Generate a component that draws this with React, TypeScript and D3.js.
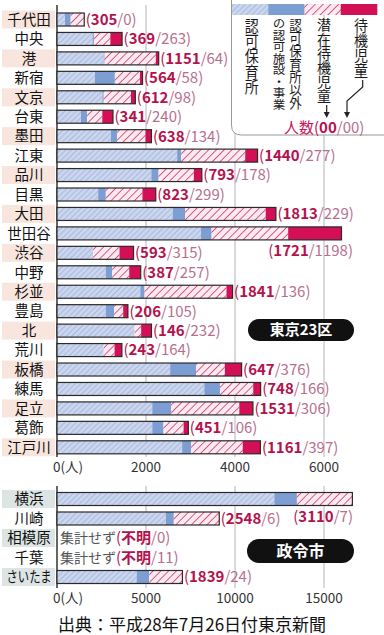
import React, { Component } from "react";
import * as d3 from "d3";

// 東京23区
const wards = ["千代田", "中央", "港", "新宿", "文京", "台東", "墨田", "江東", "品川", "目黒", "大田", "世田谷",
  "渋谷", "中野", "杉並", "豊島", "北", "荒川", "板橋", "練馬", "足立", "葛飾", "江戸川"];
const wardNinka = [180, 800, 1050, 850, 1020, 537, 1210, 2700, 2120, 925, 2600, 3237, 812, 1096, 1872, 1096, 1745, 1051, 2543, 3311, 2141, 2141, 2812];
const wardOther = [127, 30, 20, 450, 30, 140, 140, 90, 163, 172, 277, 237, 0, 141, 96, 186, 0, 0, 582, 351, 425, 253, 201];
const wardSenzai = [305, 369, 1151, 564, 612, 341, 638, 1440, 793, 823, 1813, 1721, 593, 387, 1841, 206, 146, 243, 647, 748, 1531, 451, 1161];
const wardTaiki = [0, 263, 64, 58, 98, 240, 134, 277, 178, 299, 229, 1198, 315, 257, 136, 105, 232, 164, 376, 166, 306, 106, 397];

// 政令市 (null = 集計せず)
const cities = ["横浜", "川崎", "相模原", "千葉", "さいたま"];
const cityNinka = [12210, 6115, null, null, 4474];
const cityOther = [1268, 447, null, null, 710];
const citySenzai = [3110, 2548, null, null, 1839];
const cityTaiki = [7, 6, 0, 11, 24];

const wardTicks = [0, 2000, 4000, 6000];
const cityTicks = [0, 5000, 10000, 15000];

const keys = ["ninka", "other", "senzai", "taiki"];
const FONT = "'Noto Sans CJK JP', 'Noto Sans', sans-serif";
const NUM1 = "#b3124e";
const NUM2 = "#b86f8d";

class App extends Component {
  svgRef = React.createRef<SVGSVGElement>();

  componentDidMount() {
    this.chart();
  }

  componentDidUpdate() {
    this.chart();
  }

  chart() {
    const svg = d3.select(this.svgRef.current);
    svg.selectAll("*").remove();

    const defs = svg.append("defs");
    const hatch = (id: string, base: string, stroke: string, size: number, sw: number) => {
      const p = defs.append("pattern").attr("id", id).attr("patternUnits", "userSpaceOnUse")
        .attr("width", size).attr("height", size).attr("patternTransform", "rotate(45)");
      p.append("rect").attr("width", size).attr("height", size).attr("fill", base);
      p.append("line").attr("x1", 0).attr("y1", 0).attr("x2", 0).attr("y2", size)
        .attr("stroke", stroke).attr("stroke-width", sw);
    };
    hatch("hBlue", "#cbd6ee", "#9fb3dc", 4, 1.6);
    hatch("hPink", "#fdeaf1", "#cc2a60", 5.5, 1.5);

    const colors = d3.scaleOrdinal<string, string>().domain(keys)
      .range(["url(#hBlue)", "#7c9ed3", "url(#hPink)", "#d30f55"]);

    const xTop = d3.scaleLinear().domain([0, 6000]).range([57, 324]);
    const xBot = d3.scaleLinear().domain([0, 15000]).range([57, 324]);
    const yTop = d3.scalePoint().domain(wards).range([19.5, 447.3]);
    const yBot = d3.scalePoint().domain(cities).range([499, 577]);
    const barH = 13;

    // gridlines + tick labels
    const grid = (x: d3.ScaleLinear<number, number>, ticks: number[], y0: number, y1: number) => {
      svg.append("g").selectAll("line").data(ticks).join("line")
        .attr("x1", d => x(d)).attr("x2", d => x(d)).attr("y1", y0).attr("y2", y1)
        .attr("stroke", d => d === 0 ? "#333" : "#b4b4b4")
        .attr("stroke-width", d => d === 0 ? 1.5 : 1);
      svg.append("g").selectAll("text").data(ticks).join("text")
        .attr("x", d => d === 0 ? x(d) - 4 : x(d)).attr("y", y1 + 14.5)
        .attr("text-anchor", d => d === 0 ? "start" : "middle")
        .attr("font-size", 13.5).attr("fill", "#333").attr("font-family", FONT)
        .text(d => d === 0 ? "0(人)" : String(d));
    };
    grid(xTop, wardTicks, 5, 457);
    grid(xBot, cityTicks, 486, 588);

    // row label backgrounds
    svg.append("g").selectAll("rect").data(wards).join("rect")
      .attr("x", 2).attr("y", d => yTop(d)! - 9).attr("width", 53).attr("height", 18)
      .attr("fill", (d, i) => i % 2 === 0 ? "#f8e6de" : "none");
    svg.append("g").selectAll("rect").data(cities).join("rect")
      .attr("x", 2).attr("y", d => yBot(d)! - 9).attr("width", 53).attr("height", 18)
      .attr("fill", (d, i) => i % 2 === 0 ? "#dde5e4" : "none");

    svg.append("g").selectAll("text").data(wards).join("text")
      .attr("x", 29).attr("y", d => yTop(d)!).attr("dy", "0.36em").attr("text-anchor", "middle")
      .attr("font-size", 14.5).attr("font-family", FONT).attr("fill", "#111").text(d => d);
    svg.append("g").selectAll("text").data(cities).join("text")
      .attr("x", 29).attr("y", d => yBot(d)!).attr("dy", "0.36em").attr("text-anchor", "middle")
      .attr("font-size", 14.5).attr("font-family", FONT).attr("fill", "#111")
      .attr("textLength", d => d.length > 3 ? 45 : null).attr("lengthAdjust", "spacingAndGlyphs")
      .text(d => d);

    // stacked bars
    const wardRows = wards.map((name, i) => ({
      name, ninka: wardNinka[i], other: wardOther[i], senzai: wardSenzai[i], taiki: wardTaiki[i],
    }));
    const cityRows = cities.map((name, i) => ({
      name, ninka: cityNinka[i] ?? 0, other: cityOther[i] ?? 0, senzai: citySenzai[i] ?? 0, taiki: cityTaiki[i],
      known: citySenzai[i] !== null,
    }));

    const drawBars = (rows: any[], x: d3.ScaleLinear<number, number>, y: d3.ScalePoint<string>) => {
      const stacked = d3.stack<any>().keys(keys)(rows);
      const g = svg.append("g");
      g.selectAll("g").data(stacked).join("g").attr("fill", d => colors(d.key))
        .selectAll("rect").data(d => d.filter((s: any) => s.data.known !== false)).join("rect")
        .attr("x", d => x(d[0])).attr("width", d => x(d[1]) - x(d[0]))
        .attr("y", d => y(d.data.name)! - barH / 2).attr("height", barH);
      g.selectAll(".outline").data(rows.filter(r => r.known !== false)).join("rect").attr("class", "outline")
        .attr("x", x(0)).attr("width", r => x(r.ninka + r.other + r.senzai + r.taiki) - x(0))
        .attr("y", r => y(r.name)! - barH / 2).attr("height", barH)
        .attr("fill", "none").attr("stroke", "#2a2a2a").attr("stroke-width", 1.2);
    };
    drawBars(wardRows, xTop, yTop);
    drawBars(cityRows, xBot, yBot);

    // value labels (潜在/待機)
    const label = (sel: any, a: string, b: string) => {
      sel.append("tspan").attr("fill", NUM1).text("(");
      sel.append("tspan").attr("fill", NUM1).attr("font-weight", "bold").text(a);
      sel.append("tspan").attr("fill", NUM2).text(`/${b})`);
    };
    const placeLabels = (rows: any[], x: d3.ScaleLinear<number, number>, y: d3.ScalePoint<string>, below: string[]) => {
      const g = svg.append("g").attr("font-size", 15).attr("font-family", FONT);
      rows.forEach(r => {
        const end = x(r.ninka + r.other + r.senzai + r.taiki);
        if (r.known === false) {
          const t = g.append("text").attr("x", 60).attr("y", y(r.name)!).attr("dy", "0.36em");
          t.append("tspan").attr("fill", "#555").attr("font-size", 14).text("集計せず");
          label(t, "不明", String(r.taiki));
          return;
        }
        const isBelow = below.includes(r.name);
        const t = g.append("text")
          .attr("x", isBelow ? 353 : end + 1.5)
          .attr("y", isBelow ? y(r.name)! + 17.5 : y(r.name)!)
          .attr("dy", "0.36em")
          .attr("text-anchor", isBelow ? "end" : "start");
        label(t, String(r.senzai), String(r.taiki));
      });
    };
    placeLabels(wardRows, xTop, yTop, ["世田谷"]);
    placeLabels(cityRows, xBot, yBot, ["横浜"]);

    // region tags
    const tag = (x0: number, y0: number, w: number, h: number, txt: string, fs: number) => {
      svg.append("rect").attr("x", x0).attr("y", y0).attr("width", w).attr("height", h)
        .attr("rx", h / 2).attr("fill", "#111");
      svg.append("text").attr("x", x0 + w / 2).attr("y", y0 + h / 2).attr("dy", "0.36em")
        .attr("text-anchor", "middle").attr("fill", "#fff").attr("font-weight", "bold")
        .attr("font-size", fs).attr("font-family", FONT).text(txt);
    };
    tag(248, 319, 106, 22, "東京23区", 15);
    tag(247, 539, 107, 24, "政令市", 16);

    // legend
    const lg = svg.append("g");
    lg.append("path").attr("d", "M231.5,-2 V125 Q231.5,135 241.5,135 H390")
      .attr("fill", "#fff").attr("stroke", "#999").attr("stroke-width", 1);
    const lx = d3.scaleBand().domain(keys).range([232, 377]);
    lg.selectAll("rect").data(keys).join("rect")
      .attr("x", d => lx(d)!).attr("width", lx.bandwidth() + 0.3).attr("y", 4).attr("height", 11)
      .attr("fill", d => colors(d));

    // vertical captions
    const cols = [
      { x: 251.7, txt: "認可保育所", fs: 14, len: 77 },
      { x: 295.5, txt: "認可保育所以外", fs: 12.5, len: 92 },
      { x: 279, txt: "の認可施設・事業", fs: 12.5, len: 92 },
      { x: 324, txt: "潜在待機児童", fs: 14, len: 85 },
      { x: 361, txt: "待機児童", fs: 14, len: 60 },
    ];
    lg.append("g").selectAll("text").data(cols).join("text")
      .attr("x", d => d.x).attr("y", 18)
      .style("writing-mode", "vertical-rl")
      .attr("font-size", d => d.fs).attr("font-family", FONT).attr("fill", "#1a1a1a")
      .attr("textLength", d => d.len).attr("lengthAdjust", "spacingAndGlyphs")
      .text(d => d.txt);

    lg.append("line").attr("x1", 326.7).attr("x2", 326.7).attr("y1", 105).attr("y2", 113)
      .attr("stroke", "#222").attr("stroke-width", 1.2);
    lg.append("path").attr("d", d3.line()([[362.7, 80], [362.7, 87], [347, 101], [347, 113]]))
      .attr("fill", "none").attr("stroke", "#222").attr("stroke-width", 1.2);
    [326.7, 347].forEach(ax => {
      lg.append("path").attr("d", `M${ax - 3},112 L${ax + 3},112 L${ax},118 Z`).attr("fill", "#222");
    });

    const lt = lg.append("text").attr("x", 284).attr("y", 128).attr("dy", "0.36em")
      .attr("font-size", 15).attr("font-family", FONT);
    lt.append("tspan").attr("fill", "#c8175a").text("人数");
    label(lt, "00", "00");

    // source
    svg.append("text").attr("x", 192).attr("y", 625).attr("dy", "0.36em").attr("text-anchor", "middle")
      .attr("font-size", 17).attr("font-family", FONT).attr("fill", "#111")
      .text("出典：平成28年7月26日付東京新聞");
  }

  render() {
    return (
      <svg ref={this.svgRef} width={384} height={635}
        style={{ position: "absolute", left: 0, top: 0, background: "#fff" }} />
    );
  }
}

export default App;
